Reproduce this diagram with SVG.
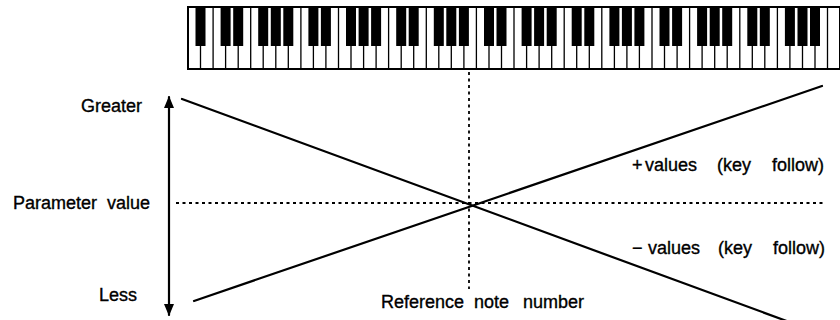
<svg xmlns="http://www.w3.org/2000/svg" width="840" height="320" viewBox="0 0 840 320">
<style>
.lbl{font-family:"Liberation Sans",Arial,sans-serif;font-size:18px;fill:#000;stroke:#000;stroke-width:0.35}
.ln{stroke:#000;stroke-width:2.2;fill:none;stroke-linecap:round}
.dot{stroke:#000;stroke-width:1.8;fill:none;stroke-dasharray:3 3.5}
.wk{fill:#fff;stroke:#000;stroke-width:2}
.bk{fill:#000}
</style>
<defs>
<marker id="ah" viewBox="0 0 12 10" refX="11" refY="5" markerWidth="12" markerHeight="10" markerUnits="userSpaceOnUse" orient="auto-start-reverse">
<path d="M0,0 L12,5 L0,10 Z" fill="#000"/>
</marker>
</defs>
<g id="keyboard">
<rect class="wk" x="188" y="7" width="652" height="62"/>
<g stroke="#000" stroke-width="1.3">
<path d="M200.5,7V69M213.1,7V69M225.6,7V69M238.2,7V69M250.7,7V69M263.2,7V69M275.8,7V69M288.3,7V69M300.9,7V69M313.4,7V69M325.9,7V69M338.5,7V69M351,7V69M363.6,7V69M376.1,7V69M388.6,7V69M401.2,7V69M413.7,7V69M426.3,7V69M438.8,7V69M451.3,7V69M463.9,7V69M476.4,7V69M489,7V69M501.5,7V69M514,7V69M526.6,7V69M539.1,7V69M551.7,7V69M564.2,7V69M576.7,7V69M589.3,7V69M601.8,7V69M614.4,7V69M626.9,7V69M639.4,7V69M652,7V69M664.5,7V69M677.1,7V69M689.6,7V69M702.1,7V69M714.7,7V69M727.2,7V69M739.8,7V69M752.3,7V69M764.8,7V69M777.4,7V69M789.9,7V69M802.5,7V69M815,7V69M827.5,7V69"/>
</g>
<g class="bk">
<rect x="195.5" y="7" width="10" height="39"/>
<rect x="220.6" y="7" width="10" height="39"/><rect x="233.2" y="7" width="10" height="39"/><rect x="258.2" y="7" width="10" height="39"/><rect x="270.8" y="7" width="10" height="39"/><rect x="283.3" y="7" width="10" height="39"/>
<rect x="308.4" y="7" width="10" height="39"/><rect x="320.9" y="7" width="10" height="39"/><rect x="346" y="7" width="10" height="39"/><rect x="358.6" y="7" width="10" height="39"/><rect x="371.1" y="7" width="10" height="39"/>
<rect x="396.2" y="7" width="10" height="39"/><rect x="408.7" y="7" width="10" height="39"/><rect x="433.8" y="7" width="10" height="39"/><rect x="446.3" y="7" width="10" height="39"/><rect x="458.9" y="7" width="10" height="39"/>
<rect x="484" y="7" width="10" height="39"/><rect x="496.5" y="7" width="10" height="39"/><rect x="521.6" y="7" width="10" height="39"/><rect x="534.1" y="7" width="10" height="39"/><rect x="546.7" y="7" width="10" height="39"/>
<rect x="571.7" y="7" width="10" height="39"/><rect x="584.3" y="7" width="10" height="39"/><rect x="609.4" y="7" width="10" height="39"/><rect x="621.9" y="7" width="10" height="39"/><rect x="634.4" y="7" width="10" height="39"/>
<rect x="659.5" y="7" width="10" height="39"/><rect x="672.1" y="7" width="10" height="39"/><rect x="697.1" y="7" width="10" height="39"/><rect x="709.7" y="7" width="10" height="39"/><rect x="722.2" y="7" width="10" height="39"/>
<rect x="747.3" y="7" width="10" height="39"/><rect x="759.8" y="7" width="10" height="39"/><rect x="784.9" y="7" width="10" height="39"/><rect x="797.5" y="7" width="10" height="39"/><rect x="810" y="7" width="10" height="39"/>
</g>
</g>
<g id="connectors">
<line class="ln" x1="169" y1="97" x2="169" y2="315" stroke-width="2.5" marker-start="url(#ah)" marker-end="url(#ah)"/>
<line class="dot" x1="176" y1="203" x2="823" y2="203"/>
<line class="dot" x1="469" y1="72" x2="469" y2="289"/>
<line class="ln" x1="182" y1="99" x2="822" y2="334"/>
<line class="ln" x1="194" y1="301" x2="822" y2="86"/>
</g>
<g id="label-greater"><text class="lbl" x="142" y="112" text-anchor="end">Greater</text></g>
<g id="label-param"><text class="lbl" y="209"><tspan x="13">Parameter</tspan><tspan x="107">value</tspan></text></g>
<g id="label-less"><text class="lbl" x="137" y="301" text-anchor="end">Less</text></g>
<g id="label-ref"><text class="lbl" y="308"><tspan x="381">Reference</tspan><tspan x="474">note</tspan><tspan x="523">number</tspan></text></g>
<g id="label-plus"><text class="lbl" y="171"><tspan x="632">+</tspan><tspan x="645">values</tspan><tspan x="717">(key</tspan><tspan x="772">follow)</tspan></text></g>
<g id="label-minus"><text class="lbl" y="254"><tspan x="632">−</tspan><tspan x="648">values</tspan><tspan x="718">(key</tspan><tspan x="773">follow)</tspan></text></g>
</svg>
